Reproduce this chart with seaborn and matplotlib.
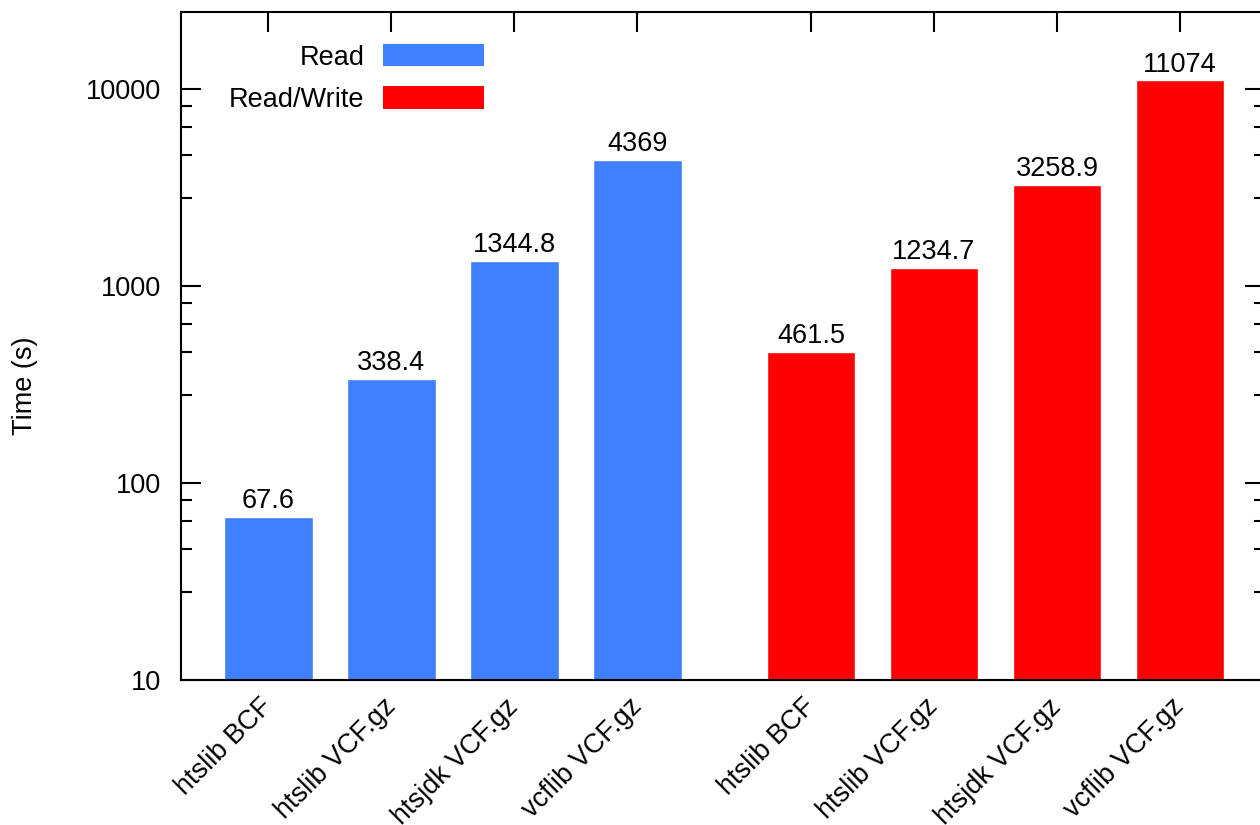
import numpy as np
import pandas as pd
import matplotlib
matplotlib.use("Agg")
import matplotlib.pyplot as plt
import matplotlib.transforms as mtransforms
import seaborn as sns
from matplotlib.patches import Patch
from matplotlib.ticker import FixedLocator, FuncFormatter

# ==========================================
# DATOS
# ==========================================
tools = ["htslib BCF", "htslib VCF.gz", "htsjdk VCF.gz", "vcflib VCF.gz"]
read_times = [67.6, 338.4, 1344.8, 4369]
readwrite_times = [461.5, 1234.7, 3258.9, 11074]
modes = ["Read", "Read/Write"]
colors = {"Read": "#4080ff", "Read/Write": "#ff0000"}

GROUP_GAP = 1.41  # hueco extra entre los dos grupos (en unidades de barra)

rows = []
for g, (mode, vals) in enumerate(zip(modes, [read_times, readwrite_times])):
    for i, (tool, v) in enumerate(zip(tools, vals)):
        rows.append({"pos": g * (len(tools) - 1 + GROUP_GAP) + i,
                     "tool": tool, "mode": mode, "time": v})
df = pd.DataFrame(rows)

# ==========================================
# ESTILO
# ==========================================
sns.set_style("ticks")
plt.rcParams["font.family"] = ["Liberation Sans", "DejaVu Sans"]
for k in ["text.color", "axes.labelcolor", "xtick.color", "ytick.color", "axes.edgecolor"]:
    plt.rcParams[k] = "black"
FS = 19.5

fig = plt.figure(figsize=(12.6, 8.25), dpi=100)
ax = fig.add_axes([181 / 1260, 145 / 825, (1265 - 181) / 1260, 668 / 825])

sns.barplot(data=df, x="pos", y="time", hue="mode", palette=colors,
            native_scale=True, dodge=False, width=0.72, saturation=1,
            legend=False, ax=ax)

ax.set_yscale("log")
ax.set_ylim(10, 24600)
ax.set_xlim(-0.71, df["pos"].max() + 0.69)

for cont in ax.containers:
    ax.bar_label(cont, fmt="{:g}", fontsize=FS, padding=2)

# ejes y ticks
for sp in ax.spines.values():
    sp.set_visible(True)
    sp.set_linewidth(1.5)
    sp.set_color("black")

ax.tick_params(axis="x", bottom=False, top=True, direction="in",
               length=14.4, width=1.5, pad=12)
ax.set_xticks(df["pos"])
ax.set_xticklabels(df["tool"], rotation=45, ha="right", va="top",
                   rotation_mode="anchor", fontsize=FS)

ax.yaxis.set_major_locator(FixedLocator([10, 100, 1000, 10000]))
minor = [10.0 ** k * (1 + 1.8 * j) for k in range(1, 5) for j in range(1, 5)]
ax.yaxis.set_minor_locator(FixedLocator(minor))
ax.yaxis.set_major_formatter(FuncFormatter(lambda v, p: f"{v:g}"))
ax.yaxis.set_minor_formatter(FuncFormatter(lambda v, p: ""))
ax.tick_params(axis="y", which="major", left=True, right=True, direction="in",
               length=14.4, width=1.5, pad=14, labelsize=FS)
ax.tick_params(axis="y", which="minor", left=True, right=True, direction="in",
               length=7.9, width=1.5)

# desplazar etiquetas del eje x (después de tick_params, que resetea transformaciones)
shift = mtransforms.ScaledTranslation(-9 / 100, 3 / 100, fig.dpi_scale_trans)
for t in ax.xaxis.get_major_ticks():
    t.label1.set_transform(t.label1.get_transform() + shift)

ax.set_xlabel("")
ax.set_ylabel("Time (s)", fontsize=FS)
ax.yaxis.set_label_coords(-0.132, 0.44)

handles = [Patch(facecolor=colors[m], edgecolor="none") for m in modes]
ax.legend(handles, modes, markerfirst=False, frameon=False, fontsize=FS,
          handlelength=3.74, handleheight=0.9, handletextpad=0.67,
          labelspacing=0.58, borderpad=0, borderaxespad=0,
          loc="upper right", bbox_to_anchor=(484 / 1260, 1 - 44 / 825),
          bbox_transform=fig.transFigure)

plt.savefig("out.png", dpi=100)
plt.close()
